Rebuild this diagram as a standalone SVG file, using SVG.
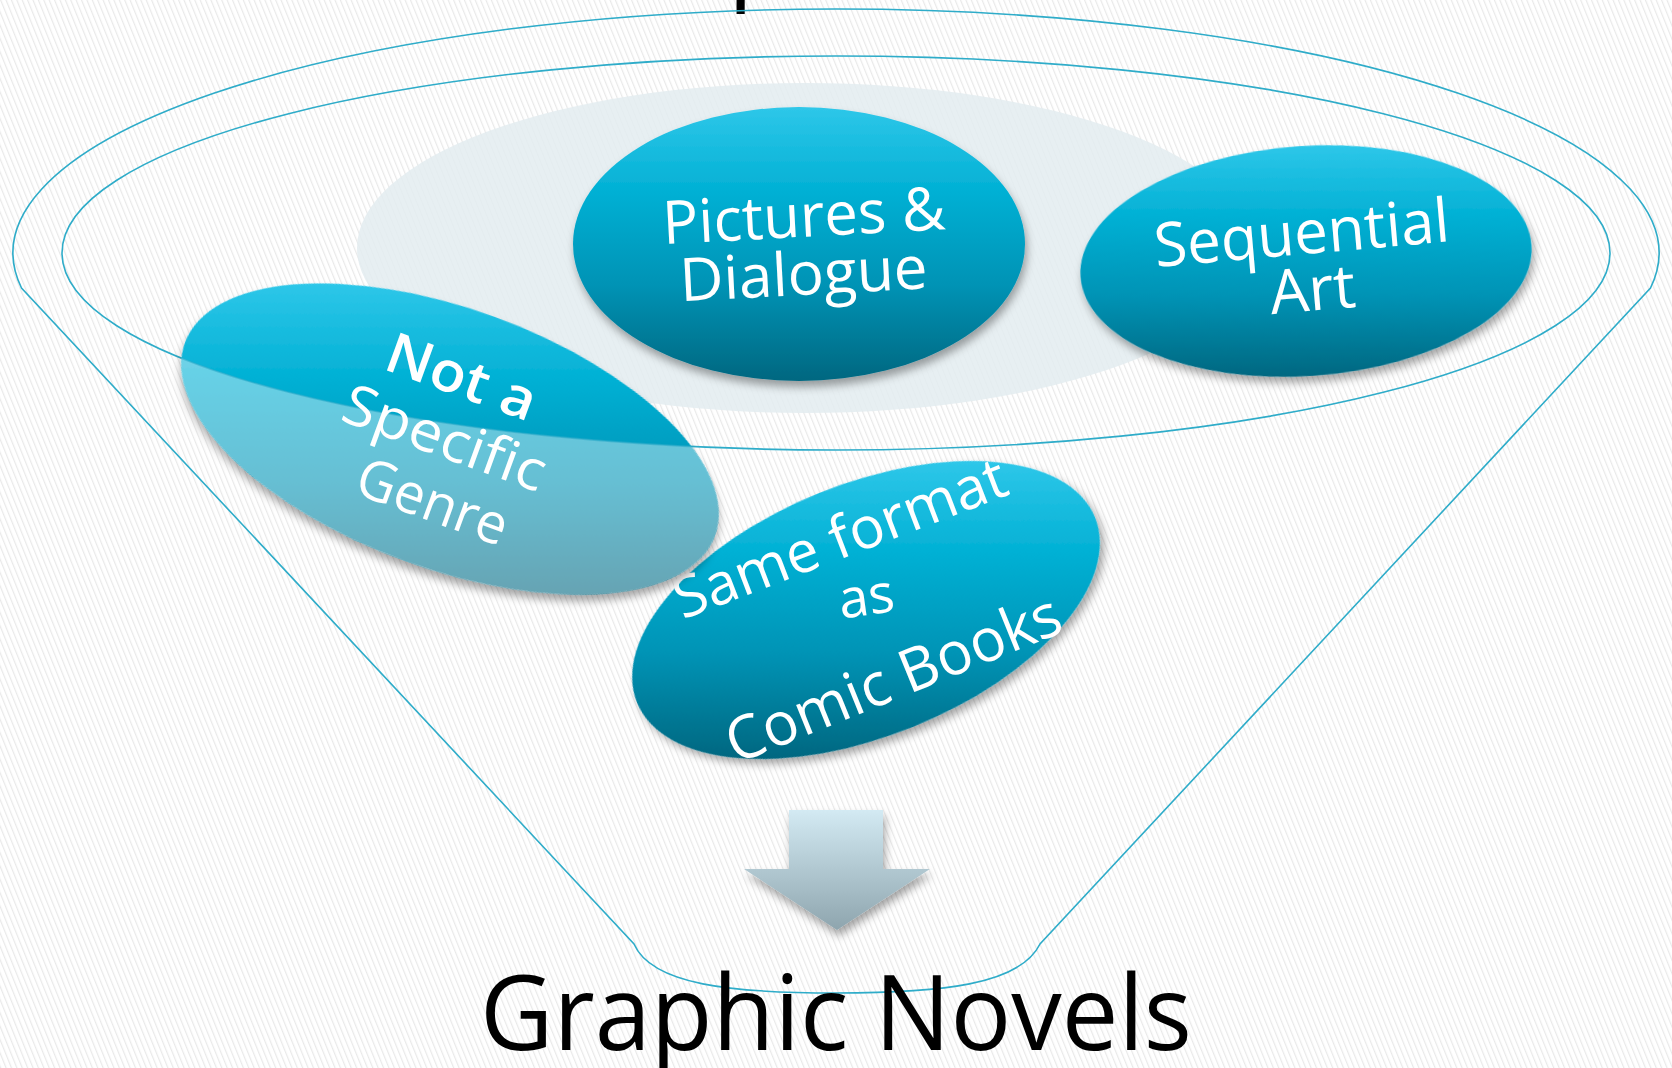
<svg xmlns="http://www.w3.org/2000/svg" width="1672" height="1068" viewBox="0 0 1672 1068">
<defs>
  <pattern id="stripes" width="5" height="5" patternUnits="userSpaceOnUse" patternTransform="rotate(-22)">
    <rect width="5" height="5" fill="#ffffff"/>
    <rect width="1.2" height="5" fill="#e9e9e9"/>
  </pattern>
  <filter id="shadow" x="-20%" y="-20%" width="140%" height="150%">
    <feDropShadow dx="2" dy="6" stdDeviation="4" flood-color="#000" flood-opacity="0.35"/>
  </filter>
  <linearGradient id="gPic" x1="0" y1="0" x2="0" y2="1">
    <stop offset="0" stop-color="#2ec7e9"/>
    <stop offset="0.3" stop-color="#03b1d5"/>
    <stop offset="0.65" stop-color="#0393b5"/>
    <stop offset="1" stop-color="#006780"/>
  </linearGradient>
  <linearGradient id="gSeq" gradientUnits="userSpaceOnUse" x1="8" y1="-116" x2="-8" y2="116">
    <stop offset="0" stop-color="#2ec7e9"/>
    <stop offset="0.3" stop-color="#03b1d5"/>
    <stop offset="0.65" stop-color="#0393b5"/>
    <stop offset="1" stop-color="#006780"/>
  </linearGradient>
  <linearGradient id="gNot" gradientUnits="userSpaceOnUse" x1="-53" y1="-147" x2="53" y2="147">
    <stop offset="0" stop-color="#2ec7e9"/>
    <stop offset="0.3" stop-color="#03b1d5"/>
    <stop offset="0.65" stop-color="#0393b5"/>
    <stop offset="1" stop-color="#006780"/>
  </linearGradient>
  <linearGradient id="gSame" gradientUnits="userSpaceOnUse" x1="56" y1="-138" x2="-56" y2="138">
    <stop offset="0" stop-color="#2ec7e9"/>
    <stop offset="0.3" stop-color="#03b1d5"/>
    <stop offset="0.65" stop-color="#0393b5"/>
    <stop offset="1" stop-color="#006780"/>
  </linearGradient>
  <linearGradient id="gArrow" x1="0" y1="0" x2="0" y2="1">
    <stop offset="0" stop-color="#d3eaf3"/>
    <stop offset="1" stop-color="#8ea5ae"/>
  </linearGradient>
  <clipPath id="outsideInner">
    <path clip-rule="evenodd" d="M0 0H1672V1068H0Z M62 253 a774 197 0 1 0 1548 0 a774 197 0 1 0 -1548 0Z"/>
  </clipPath>
  <clipPath id="notClip">
    <ellipse cx="0" cy="0" rx="282" ry="130" transform="translate(450 439) rotate(20)"/>
  </clipPath>
  <style>
    .funnel { fill: none; stroke: #2eacc9; stroke-width: 1.6; }
    .lbl { font-family: "Open Sans", "Noto Sans", "DejaVu Sans", sans-serif; fill: #ffffff; text-anchor: middle; }
    .title { font-family: "Open Sans", "Noto Sans", "DejaVu Sans", sans-serif; fill: #000000; }
  </style>
</defs>

<rect x="0" y="0" width="1672" height="1068" fill="url(#stripes)"/>

<text class="title" x="728" y="-10" font-size="100">p</text>

<ellipse id="backdrop" cx="805" cy="248" rx="448" ry="165" fill="#e3ecf0" opacity="0.85"/>

<g id="connectors">
  <path id="funnel-outer" class="funnel" d="M21.5 288 A823 244 0 1 1 1650.5 288 L1040 944 C1020 985 940 993 836 993 C732 993 652 985 634 944 Z"/>
  <ellipse id="funnel-inner" class="funnel" cx="836" cy="253" rx="774" ry="197"/>
  <polygon id="arrow" points="789,810 883,810 883,869 930,869 837,930 744,869 789,869" fill="url(#gArrow)" filter="url(#shadow)"/>
</g>

<g id="node-pictures">
  <ellipse cx="799" cy="244" rx="226" ry="137" fill="url(#gPic)" filter="url(#shadow)"/>
  <text class="lbl" font-size="60" transform="rotate(-3 799 244)">
    <tspan x="813" y="237" textLength="283" lengthAdjust="spacingAndGlyphs">Pictures &amp;</tspan>
    <tspan x="802" y="295" textLength="248" lengthAdjust="spacingAndGlyphs">Dialogue</tspan>
  </text>
</g>

<g id="node-sequential">
  <g transform="translate(1306 261) rotate(-4)">
    <ellipse cx="0" cy="0" rx="226" ry="115" fill="url(#gSeq)" filter="url(#shadow)"/>
  </g>
  <text class="lbl" font-size="61" transform="translate(1306 261) rotate(-5)">
    <tspan x="6" y="-7" textLength="296" lengthAdjust="spacingAndGlyphs">Sequential</tspan>
    <tspan x="4" y="50" textLength="86" lengthAdjust="spacingAndGlyphs">Art</tspan>
  </text>
</g>

<g id="node-same-format">
  <g transform="translate(866 610) rotate(-22)">
    <ellipse cx="0" cy="0" rx="247" ry="126" fill="url(#gSame)" filter="url(#shadow)"/>
  </g>
  <text class="lbl" font-size="58" transform="translate(840 538) rotate(-21)" y="20" textLength="352" lengthAdjust="spacingAndGlyphs">Same format</text>
  <text class="lbl" font-size="54" transform="translate(866 596) rotate(-8)" y="19" textLength="56" lengthAdjust="spacingAndGlyphs">as</text>
  <text class="lbl" font-size="60" transform="translate(893 678) rotate(-22)" y="21" textLength="356" lengthAdjust="spacingAndGlyphs">Comic Books</text>
</g>

<g id="node-not-genre">
  <g transform="translate(450 439) rotate(20)">
    <ellipse cx="0" cy="0" rx="282" ry="130" fill="url(#gNot)" filter="url(#shadow)"/>
  </g>
  <g clip-path="url(#outsideInner)">
    <ellipse cx="0" cy="0" rx="282" ry="130" transform="translate(450 439) rotate(20)" fill="#ffffff" opacity="0.4"/>
  </g>
  <g clip-path="url(#notClip)">
    <ellipse class="funnel" cx="836" cy="253" rx="774" ry="197" opacity="0.6"/>
  </g>
  <g transform="translate(450 439) rotate(20)">
    <text class="lbl" font-size="56">
      <tspan x="-3" y="-43" font-weight="600" textLength="156" lengthAdjust="spacingAndGlyphs">Not a</tspan>
      <tspan x="2" y="20" textLength="212" lengthAdjust="spacingAndGlyphs">Specific</tspan>
      <tspan x="5" y="84" textLength="157" lengthAdjust="spacingAndGlyphs">Genre</tspan>
    </text>
  </g>
</g>

<text class="title" x="836" y="1050" font-size="105" text-anchor="middle" textLength="712" lengthAdjust="spacingAndGlyphs">Graphic Novels</text>
</svg>
